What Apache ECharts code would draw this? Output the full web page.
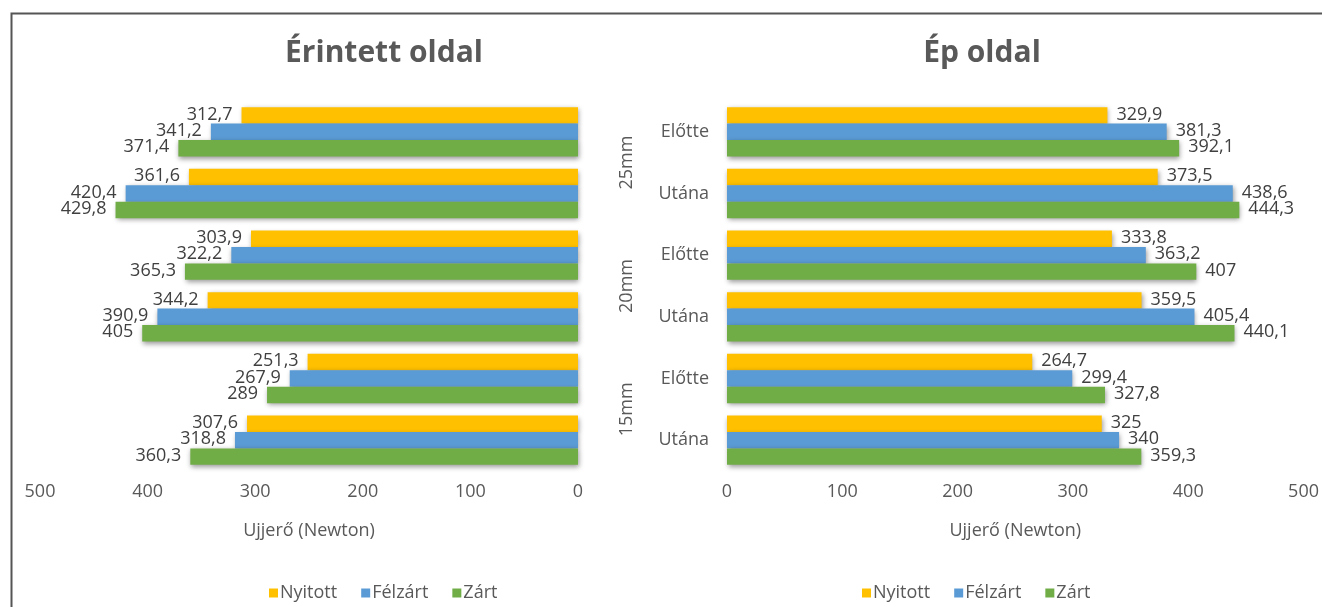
<!DOCTYPE html>
<html>
<head>
<meta charset="utf-8">
<script src="https://cdn.jsdelivr.net/npm/echarts@6/dist/echarts.min.js"></script>
<style>
html,body{margin:0;padding:0;background:#fff;}
#c{width:1322px;height:607px;}
</style>
</head>
<body>
<div id="c"></div>
<script>
// Data
const categories = ['Előtte', 'Utána', 'Előtte', 'Utána', 'Előtte', 'Utána'];
const groups = ['25mm', '20mm', '15mm'];
const seriesNames = ['Nyitott', 'Félzárt', 'Zárt'];
const xTicks = [0, 100, 200, 300, 400, 500];

// Érintett oldal (affected side)
const erintettNyitott = [312.7, 361.6, 303.9, 344.2, 251.3, 307.6];
const erintettFelzart = [341.2, 420.4, 322.2, 390.9, 267.9, 318.8];
const erintettZart    = [371.4, 429.8, 365.3, 405, 289, 360.3];

// Ép oldal (healthy side)
const epNyitott = [329.9, 373.5, 333.8, 359.5, 264.7, 325];
const epFelzart = [381.3, 438.6, 363.2, 405.4, 299.4, 340];
const epZart    = [392.1, 444.3, 407, 440.1, 327.8, 359.3];

const colors = ['#FFC000', '#5B9BD5', '#70AD47'];
const FONT = 'Open Sans';
const TXT = '#595959';

const chart = echarts.init(document.getElementById('c'));
const fmt = p => String(p.value).replace('.', ',');

function mkSeries(name, data, idx, gridIdx, pos) {
  return {
    name: name, type: 'bar', data: data,
    xAxisIndex: gridIdx, yAxisIndex: gridIdx === 0 ? 0 : 1,
    barGap: '0%', barCategoryGap: '20%',
    itemStyle: { color: colors[idx], shadowBlur: 5, shadowColor: 'rgba(0,0,0,0.4)', shadowOffsetY: 2, shadowOffsetX: 1 },
    label: { show: true, position: pos, distance: 9, formatter: fmt, color: '#404040', fontFamily: FONT, fontSize: 18,
             textBorderWidth: 0, textBorderColor: 'transparent', offset: [0, -1] },
    animation: false
  };
}

const series = [
  mkSeries('Nyitott', erintettNyitott, 0, 0, 'left'),
  mkSeries('Félzárt', erintettFelzart, 1, 0, 'left'),
  mkSeries('Zárt', erintettZart, 2, 0, 'left'),
  mkSeries('Nyitott', epNyitott, 0, 1, 'right'),
  mkSeries('Félzárt', epFelzart, 1, 1, 'right'),
  mkSeries('Zárt', epZart, 2, 1, 'right')
];

const xAxisCommon = {
  type: 'value', min: xTicks[0], max: xTicks[xTicks.length - 1], interval: 100,
  axisLine: { show: false }, axisTick: { show: false }, splitLine: { show: false },
  axisLabel: { color: TXT, fontFamily: FONT, fontSize: 18, margin: 12 },
  name: 'Ujjerő (Newton)', nameLocation: 'middle', nameGap: 51,
  nameTextStyle: { color: TXT, fontFamily: FONT, fontSize: 18 }
};

const legendText = { color: TXT, fontFamily: FONT, fontSize: 18, padding: [0, 0, 0, -3] };

const option = {
  backgroundColor: '#fff',
  animation: false,
  graphic: [{
    type: 'rect', left: 9, top: 11, silent: true, z: -1,
    shape: { width: 1330, height: 620 },
    style: { fill: 'none', stroke: '#555', lineWidth: 2 }
  }],
  title: [
    { text: 'Érintett oldal', left: 379, top: 33, textAlign: 'center',
      textStyle: { color: TXT, fontFamily: FONT, fontSize: 30, fontWeight: 'bold' } },
    { text: 'Ép oldal', left: 977, top: 33, textAlign: 'center',
      textStyle: { color: TXT, fontFamily: FONT, fontSize: 30, fontWeight: 'bold' } }
  ],
  legend: [
    { data: seriesNames, left: 264, top: 579, icon: 'rect', itemWidth: 9, itemHeight: 9, itemGap: 24,
      textStyle: legendText },
    { data: seriesNames, left: 857, top: 579, icon: 'rect', itemWidth: 9, itemHeight: 9, itemGap: 24,
      textStyle: legendText }
  ],
  grid: [
    { left: 40, right: 744, top: 101, bottom: 136 },
    { left: 727, right: 17, top: 101, bottom: 136 }
  ],
  xAxis: [
    Object.assign({}, xAxisCommon, { gridIndex: 0, inverse: true }),
    Object.assign({}, xAxisCommon, { gridIndex: 1 })
  ],
  yAxis: [
    { type: 'category', gridIndex: 0, data: categories, inverse: true,
      axisLine: { show: false }, axisTick: { show: false }, axisLabel: { show: false } },
    { type: 'category', gridIndex: 1, data: categories, inverse: true,
      axisLine: { show: false }, axisTick: { show: false },
      axisLabel: { color: TXT, fontFamily: FONT, fontSize: 18, margin: 18 } },
    { type: 'category', gridIndex: 1, data: groups, inverse: true, position: 'left', offset: 91,
      axisLine: { show: false }, axisTick: { show: false },
      axisLabel: { color: TXT, fontFamily: FONT, fontSize: 18, rotate: 90, margin: 0 } }
  ],
  series: series
};
chart.setOption(option);
</script>
</body>
</html>
